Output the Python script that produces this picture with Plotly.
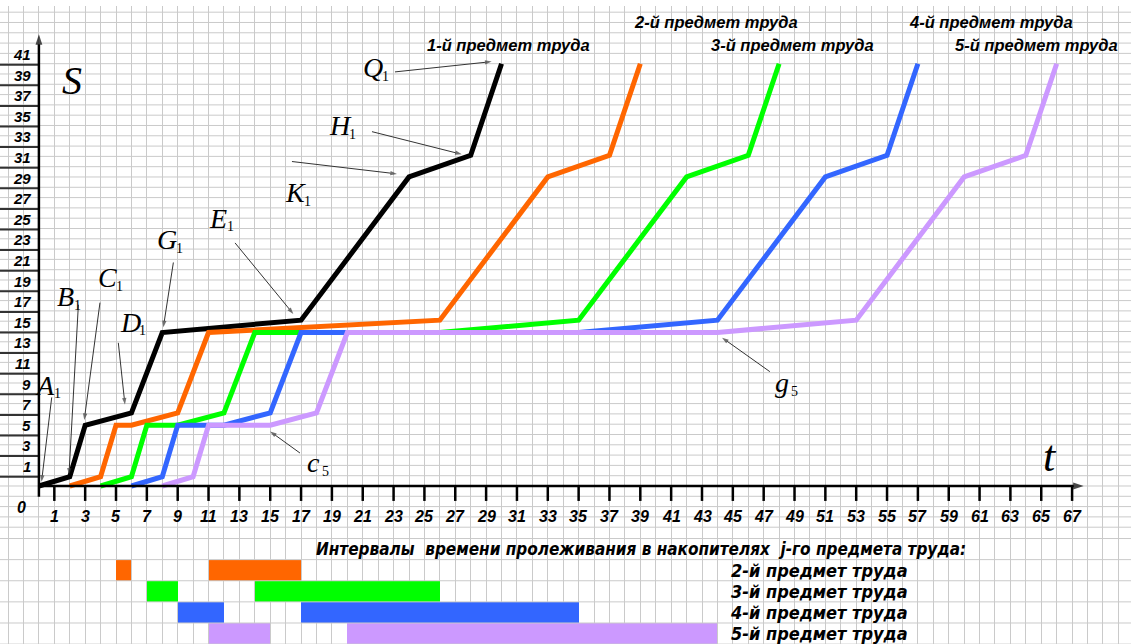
import plotly.graph_objects as go

# ---------------- data ----------------
# time moments t of the characteristic points of each work item
t_item1 = [0, 2, 3, 6, 8, 17, 24, 28, 30]
s_item1 = [0, 0.9, 5.9, 7.1, 14.9, 16.1, 30.0, 32.1, 41.0]
t_item2 = [2, 4, 5, 6, 9, 11, 26, 33, 37, 39]
s_item2 = [0, 0.9, 5.9, 5.9, 7.1, 14.9, 16.1, 30.0, 32.1, 41.0]
t_item3 = [4, 6, 7, 9, 12, 14, 26, 35, 42, 46, 48]
s_item3 = [0, 0.9, 5.9, 5.9, 7.1, 14.9, 14.9, 16.1, 30.0, 32.1, 41.0]
t_item4 = [6, 8, 9, 12, 15, 17, 35, 44, 51, 55, 57]
s_item4 = [0, 0.9, 5.9, 5.9, 7.1, 14.9, 14.9, 16.1, 30.0, 32.1, 41.0]
t_item5 = [8, 10, 11, 15, 18, 20, 44, 53, 60, 64, 66]
s_item5 = [0, 0.9, 5.9, 5.9, 7.1, 14.9, 14.9, 16.1, 30.0, 32.1, 41.0]

item_names = ["1-й предмет труда", "2-й предмет труда", "3-й предмет труда",
              "4-й предмет труда", "5-й предмет труда"]
item_colors = ["#000000", "#ff6600", "#00ff00", "#3366ff", "#cc99ff"]

# idle (storage) intervals of items 2..5
idle_start_2 = [5, 11]
idle_end_2 = [6, 17]
idle_start_3 = [7, 14]
idle_end_3 = [9, 26]
idle_start_4 = [9, 17]
idle_end_4 = [12, 35]
idle_start_5 = [11, 20]
idle_end_5 = [15, 44]

x_tick_labels = list(range(1, 68, 2))
y_tick_labels = list(range(1, 42, 2))

# point labels: (letter, index, label t, label S, arrow tail t, tail S, head t, head S)
point_labels = [
    ("A", "1", 0.72, 9.8, 0.83, 8.6, 0.17, 0.4),
    ("B", "1", 2.02, 18.4, 2.56, 17.6, 1.95, 1.1),
    ("C", "1", 4.74, 20.2, 3.96, 17.8, 2.94, 6.4),
    ("D", "1", 6.23, 15.9, 5.15, 13.9, 5.58, 7.9),
    ("G", "1", 8.63, 23.9, 8.72, 21.7, 8.07, 15.4),
    ("E", "1", 11.94, 26.0, 12.72, 23.6, 16.5, 16.7),
    ("K", "1", 16.93, 28.5, 16.41, 31.5, 23.22, 30.3),
    ("H", "1", 19.85, 35.0, 21.6, 34.4, 27.42, 32.2),
    ("Q", "1", 21.99, 40.6, 23.09, 40.2, 29.36, 41.2),
    ("c", "5", 18.1, 2.3, 16.93, 3.2, 14.99, 5.3),
    ("g", "5", 48.5, 10.0, 47.4, 11.1, 44.3, 14.4),
]

# ---------------- layout constants ----------------
X_RANGE = [-2.523, 70.82]
Y_RANGE = [-15.34, 46.6]
X_AXIS_END = 67.75
Y_AXIS_END = 43.85
Y_AXIS_BOTTOM = -1.05
TICK_LEN = 1.45
LABEL_SHIFT = 0.9          # the S-labels column sits this much above the axis grid
ROW_TOP = -7.15
ROW_H = 2.05
LETTER_DX = -0.3
SUB_DX = 0.12
SUB_DY = -0.85
GRID = "#cacaca"
BOLD_IT = dict(family="Liberation Sans, Arial", weight="bold", style="italic", color="black")
NARROW = dict(family="Liberation Sans Narrow, DejaVu Sans Condensed, Arial", weight="bold",
              style="italic", color="black")
SERIF_IT = dict(family="Liberation Serif, Times New Roman", style="italic", color="black")
SERIF = dict(family="Liberation Serif, Times New Roman", color="black")

fig = go.Figure()


def segs(pairs):
    xs, ys = [], []
    for (x0, y0, x1, y1) in pairs:
        xs += [x0, x1, None]
        ys += [y0, y1, None]
    return xs, ys


# ---- grid paper: horizontal lines ----
h_levels = list(range(-4, 47)) + [ROW_TOP + ROW_H - i * ROW_H for i in range(6)]
gx, gy = segs([(X_RANGE[0], lv, X_RANGE[1], lv) for lv in h_levels])
fig.add_trace(go.Scatter(x=gx, y=gy, mode="lines", line=dict(color=GRID, width=1),
                         hoverinfo="skip", showlegend=False))

# ---- S-label column separators ----
sx, sy = segs([(X_RANGE[0], v + LABEL_SHIFT, 0, v + LABEL_SHIFT) for v in range(0, 42, 2)])
fig.add_trace(go.Scatter(x=sx, y=sy, mode="lines", line=dict(color="#333333", width=2),
                         hoverinfo="skip", showlegend=False))

# ---- t ticks ----
tx, ty = segs([(v, 0, v, -TICK_LEN) for v in x_tick_labels])
fig.add_trace(go.Scatter(x=tx, y=ty, mode="lines", line=dict(color="black", width=2.5),
                         hoverinfo="skip", showlegend=False))

# ---- idle interval bars ----
idle = [(idle_start_2, idle_end_2), (idle_start_3, idle_end_3),
        (idle_start_4, idle_end_4), (idle_start_5, idle_end_5)]
for k, (st, en) in enumerate(idle):
    yc = ROW_TOP - ROW_H * (k + 0.5)
    fig.add_trace(go.Bar(orientation="h", base=st, x=[e - s for s, e in zip(st, en)],
                         y=[yc] * len(st), width=ROW_H,
                         marker=dict(color=item_colors[k + 1], line=dict(width=0)),
                         showlegend=False, hoverinfo="skip"))
    fig.add_annotation(x=50.6, y=yc, text=item_names[k + 1], showarrow=False,
                       font=dict(size=18, **NARROW))

fig.add_annotation(x=39.05, y=ROW_TOP + ROW_H / 2,
                   text="Интервалы  времени пролеживания в накопителях  j-го предмета труда:",
                   showarrow=False, font=dict(size=17, **NARROW))

# ---- item lines ----
series = [(t_item1, s_item1), (t_item2, s_item2), (t_item3, s_item3),
          (t_item4, s_item4), (t_item5, s_item5)]
for k, (tt, ss) in enumerate(series):
    fig.add_trace(go.Scatter(x=tt, y=ss, mode="lines", name=item_names[k],
                             line=dict(color=item_colors[k], width=5),
                             showlegend=False, hoverinfo="skip"))


# ---- arrows (line + arrow-shaped end marker) ----
def arrow(x0, y0, x1, y1, width, color, head):
    fig.add_trace(go.Scatter(
        x=[x0, x1], y=[y0, y1], mode="lines+markers",
        line=dict(color=color, width=width),
        marker=dict(symbol=["circle", "arrow"], size=[0, head], color=color,
                    angleref="previous", line=dict(width=0)),
        hoverinfo="skip", showlegend=False, cliponaxis=False))


arrow(0, 0, X_AXIS_END, 0, 2.5, "black", 11)
arrow(0, Y_AXIS_BOTTOM, 0, Y_AXIS_END, 2.5, "black", 11)

# ---- tick labels ----
for v in x_tick_labels:
    fig.add_annotation(x=v, y=-2.98, text=str(v), showarrow=False, font=dict(size=16, **BOLD_IT))
fig.add_annotation(x=-1.12, y=-2.07, text="0", showarrow=False, font=dict(size=16, **BOLD_IT))
for v in y_tick_labels:
    fig.add_annotation(x=-0.38, y=v + LABEL_SHIFT, text=str(v), showarrow=False, xanchor="right",
                       font=dict(size=15, **BOLD_IT))

# ---- item titles at top ----
title_pos = [(30.42, 42.8), (43.9, 45.05), (48.84, 42.8), (61.75, 45.05), (64.66, 42.8)]
for name, (xp, yp) in zip(item_names, title_pos):
    fig.add_annotation(x=xp, y=yp, text=name, showarrow=False, font=dict(size=16.5, **BOLD_IT))

# ---- axis names ----
fig.add_annotation(x=2.15, y=39.4, text="S", showarrow=False, font=dict(size=40, **SERIF_IT))
fig.add_annotation(x=65.57, y=2.85, text="t", showarrow=False, font=dict(size=44, **SERIF_IT))

# ---- point labels with arrows ----
for letter, sub, lx, ly, ax_, ay_, hx, hy in point_labels:
    fig.add_annotation(x=lx + LETTER_DX, y=ly, text=letter, showarrow=False,
                       font=dict(size=28, **SERIF_IT))
    fig.add_annotation(x=lx + SUB_DX, y=ly + SUB_DY, text=sub, showarrow=False,
                       xanchor="left", font=dict(size=14, **SERIF))
    arrow(ax_, ay_, hx, hy, 1, "#333333", 7)

fig.update_layout(
    width=1131, height=644,
    margin=dict(l=0, r=0, t=6, b=0),
    paper_bgcolor="white", plot_bgcolor="white",
    barmode="overlay", bargap=0,
    xaxis=dict(range=X_RANGE, showgrid=True, dtick=1, tick0=0, gridcolor=GRID, gridwidth=1,
               showticklabels=False, zeroline=False, showline=False, ticks=""),
    yaxis=dict(range=Y_RANGE, showgrid=False, showticklabels=False, zeroline=False,
               showline=False, ticks=""),
)

fig.write_html("out.html", config={"displayModeBar": False},
               post_script="document.body.style.margin='0px';")
